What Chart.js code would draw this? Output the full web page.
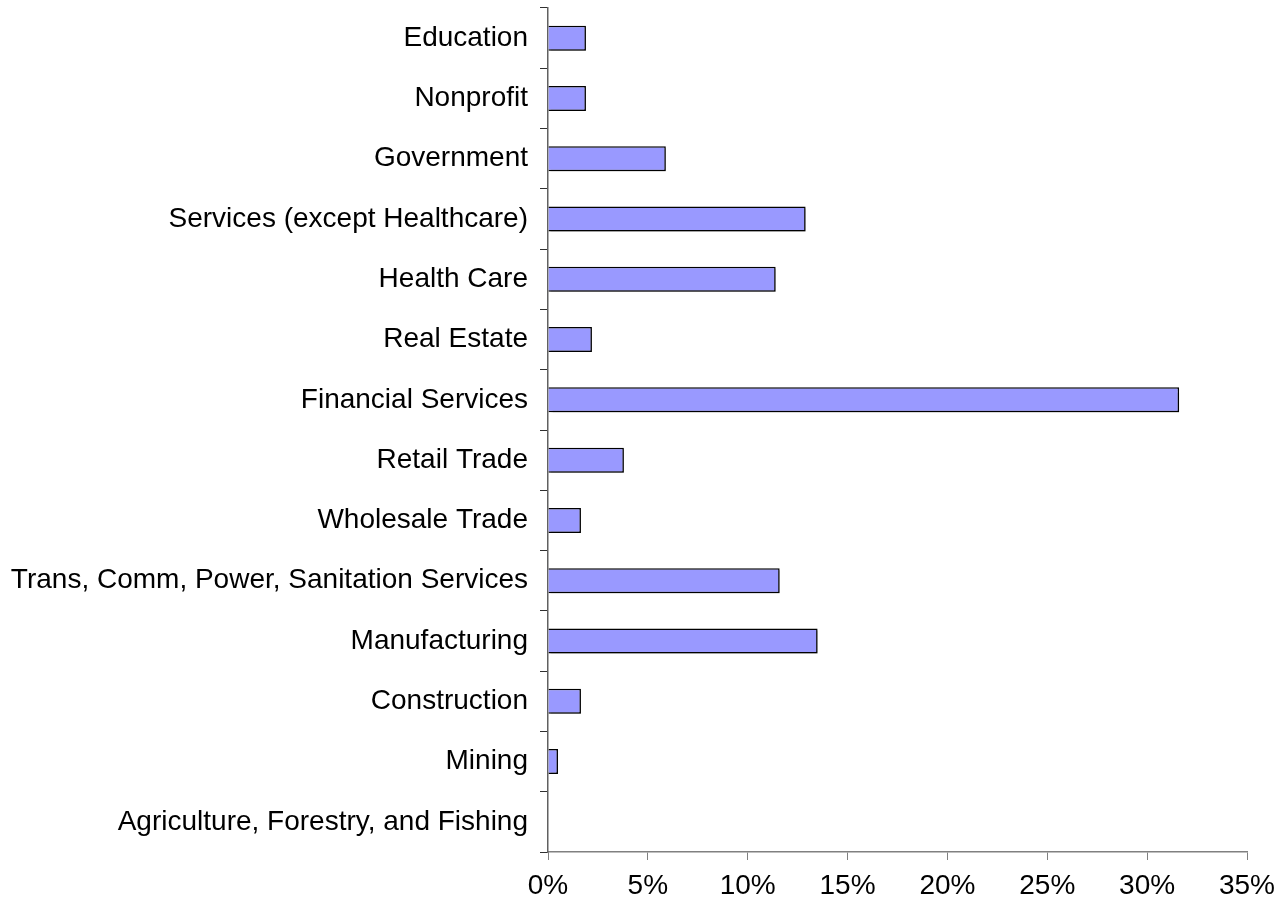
<!DOCTYPE html>
<html>
<head>
<meta charset="utf-8">
<script src="https://cdn.jsdelivr.net/npm/chart.js@4"></script>
<style>
  html, body { margin: 0; padding: 0; background: #fff; }
  #wrap { width: 1287px; height: 910px; }
</style>
</head>
<body>
<div id="wrap"><canvas id="myChart" width="1287" height="910"></canvas></div>
<script>
// industries, top to bottom as in the picture
const industries = [
    'Education',
    'Nonprofit',
    'Government',
    'Services (except Healthcare)',
    'Health Care',
    'Real Estate',
    'Financial Services',
    'Retail Trade',
    'Wholesale Trade',
    'Trans, Comm, Power, Sanitation Services',
    'Manufacturing',
    'Construction',
    'Mining',
    'Agriculture, Forestry, and Fishing'
];
// share of total (%)
const shares = [1.9, 1.9, 5.9, 12.9, 11.4, 2.2, 31.6, 3.8, 1.65, 11.6, 13.5, 1.65, 0.5, 0];
const xTicks = [0, 5, 10, 15, 20, 25, 30, 35];

const labelFont = { family: "'Liberation Sans', Arial, sans-serif", size: 28 };

// soft grey drop shadow behind the bars, like the original
const barShadow = {
    id: 'barShadow',
    beforeDatasetsDraw(chart) {
        const c = chart.ctx;
        c.save();
        c.shadowColor = 'rgba(0,0,0,0.3)';
        c.shadowOffsetX = 2;
        c.shadowOffsetY = 2;
        c.shadowBlur = 1;
    },
    afterDatasetsDraw(chart) {
        chart.ctx.restore();
    }
};

document.addEventListener('DOMContentLoaded', () => {
    const ctx = document.getElementById('myChart').getContext('2d');

    const myChart = new Chart(ctx, {
        type: 'bar',
        data: {
            labels: industries,
            datasets: [{
                data: shares,
                backgroundColor: '#9999ff',
                borderColor: '#000000',
                borderWidth: 1.5,
                barPercentage: 0.415,
                categoryPercentage: 1
            }]
        },
        options: {
            indexAxis: 'y',
            responsive: false,
            animation: false,
            layout: { padding: { top: 8, right: 40, left: 0, bottom: 0 } },
            plugins: { legend: { display: false }, tooltip: { enabled: false } },
            scales: {
                x: {
                    min: 0,
                    max: 35,
                    afterBuildTicks: (scale) => { scale.ticks = xTicks.map(v => ({ value: v })); },
                    afterFit: (scale) => { scale.height = 58; },
                    border: { color: '#808080', width: 1.5 },
                    grid: { drawOnChartArea: false, drawTicks: true, tickLength: 8, color: '#808080' },
                    ticks: {
                        color: '#000',
                        font: labelFont,
                        padding: 9,
                        maxRotation: 0,
                        callback: (v) => v + '%'
                    }
                },
                y: {
                    afterFit: (scale) => {
                        scale.width = 548;
                        scale.paddingTop = 0;
                        scale.paddingBottom = 0;
                    },
                    border: { color: '#606060', width: 1.5 },
                    grid: { drawOnChartArea: false, drawTicks: true, tickLength: 8, color: '#303030' },
                    ticks: { color: '#000', font: labelFont, padding: 12, autoSkip: false }
                }
            }
        },
        plugins: [barShadow]
    });
});
</script>
</body>
</html>
